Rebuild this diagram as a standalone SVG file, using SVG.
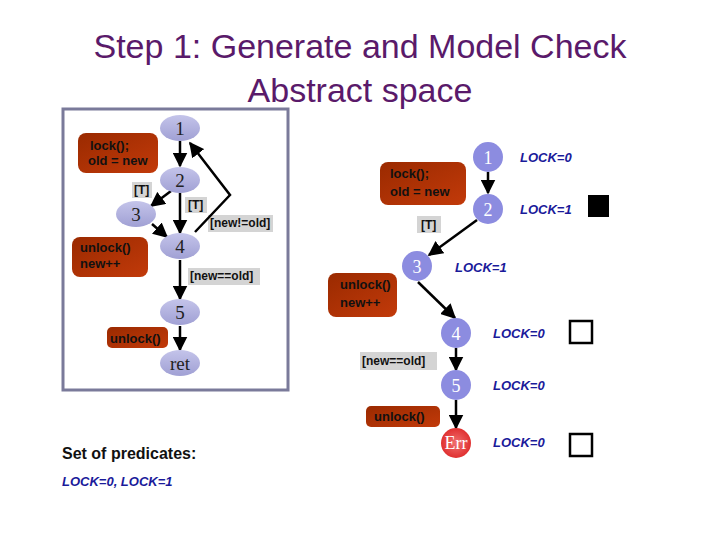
<svg xmlns="http://www.w3.org/2000/svg" width="720" height="540" viewBox="0 0 720 540">
<defs>
<linearGradient id="eg" x1="0" y1="0" x2="0" y2="1"><stop offset="0" stop-color="#c4c4ea"/><stop offset="1" stop-color="#a0a0d4"/></linearGradient>
<linearGradient id="bg" x1="0" y1="0" x2="1" y2="1"><stop offset="0" stop-color="#9a2a00"/><stop offset="1" stop-color="#c23a0a"/></linearGradient>
<radialGradient id="rg"><stop offset="0" stop-color="#f07070"/><stop offset="1" stop-color="#e03030"/></radialGradient>
<marker id="ah" viewBox="0 0 10 10" refX="9" refY="5" markerWidth="6" markerHeight="6" orient="auto"><path d="M0,0 L10,5 L0,10 z" fill="#000"/></marker>
<style>
.n{fill:url(#eg)}
.c{fill:#8c8ce0}
.nt{font-family:"Liberation Serif",serif;font-size:19px;fill:#222;text-anchor:middle}
.ct{font-family:"Liberation Serif",serif;font-size:18px;fill:#fff;text-anchor:middle}
.b{fill:url(#bg)}
.bt{font-family:"Liberation Sans",sans-serif;font-size:13px;font-weight:bold;fill:#111}
.g{fill:#d4d4d4}
.gt{font-family:"Liberation Sans",sans-serif;font-size:12px;font-weight:bold;fill:#111}
.lk{font-family:"Liberation Sans",sans-serif;font-size:13px;font-weight:bold;font-style:italic;fill:#1a1a9a}
.e{stroke:#000;stroke-width:2.5;fill:none;marker-end:url(#ah)}
</style>
</defs>
<rect width="720" height="540" fill="#fff"/>
<g id="title" font-family="Liberation Sans, sans-serif" font-size="34" fill="#5a1a6a" text-anchor="middle">
<text x="360" y="58">Step 1: Generate and Model Check</text>
<text x="360" y="102">Abstract space</text>
</g>
<rect x="63" y="109" width="225" height="281" fill="none" stroke="#7a7a9a" stroke-width="3"/>
<g id="left-annotations">
<rect class="b" x="78" y="133" width="80" height="40" rx="8"/><text class="bt" x="90" y="150">lock();</text><text class="bt" x="88" y="165" font-size="11">old = new</text>
<rect class="b" x="72" y="237" width="76" height="40" rx="8"/><text class="bt" x="80" y="252">unlock()</text><text class="bt" x="80" y="268" font-size="11">new++</text>
<rect class="b" x="107" y="327" width="61" height="21" rx="5"/><text class="bt" x="110" y="343">unlock()</text>
<rect class="g" x="132" y="182" width="20" height="16"/><text class="gt" x="134" y="194">[T]</text>
<rect class="g" x="185" y="197" width="22" height="16"/><text class="gt" x="188" y="209">[T]</text>
<rect class="g" x="208" y="215" width="65" height="17"/><text class="gt" x="210" y="227" font-size="11">[new!=old]</text>
<rect class="g" x="188" y="268" width="72" height="17"/><text class="gt" x="190" y="280" font-size="11">[new==old]</text>
</g>
<g id="connectors">
<line class="e" x1="180" y1="141" x2="180" y2="166"/>
<line class="e" x1="171" y1="191" x2="151" y2="206"/>
<line class="e" x1="180" y1="193" x2="180" y2="233"/>
<line class="e" x1="152" y1="224" x2="167" y2="237"/>
<polyline class="e" points="195,232 230,195 190,143"/>
<line class="e" x1="180" y1="260" x2="180" y2="299"/>
<line class="e" x1="180" y1="326" x2="180" y2="350"/>
<line class="e" x1="488" y1="172" x2="488" y2="193"/>
<line class="e" x1="477" y1="220" x2="429" y2="255"/>
<line class="e" x1="418" y1="282" x2="455" y2="318"/>
<line class="e" x1="456" y1="348" x2="456" y2="370"/>
<line class="e" x1="456" y1="400" x2="456" y2="428"/>
</g>
<g id="n1"><ellipse class="n" cx="180" cy="128" rx="20" ry="13"/><text class="nt" x="180" y="135">1</text></g>
<g id="n2"><ellipse class="n" cx="180" cy="180" rx="20" ry="13"/><text class="nt" x="180" y="187">2</text></g>
<g id="n3"><ellipse class="n" cx="136" cy="214" rx="20" ry="13"/><text class="nt" x="136" y="221">3</text></g>
<g id="n4"><ellipse class="n" cx="180" cy="246" rx="20" ry="13"/><text class="nt" x="180" y="253">4</text></g>
<g id="n5"><ellipse class="n" cx="180" cy="312" rx="20" ry="13"/><text class="nt" x="180" y="319">5</text></g>
<g id="nret"><ellipse class="n" cx="180" cy="363" rx="20" ry="13"/><text class="nt" x="180" y="370">ret</text></g>
<g id="right-annotations">
<rect class="b" x="380" y="162" width="86" height="43" rx="8"/><text class="bt" x="390" y="178">lock();</text><text class="bt" x="390" y="196">old = new</text>
<rect class="g" x="417" y="216" width="24" height="17"/><text class="gt" x="421" y="229">[T]</text>
<rect class="b" x="328" y="273" width="69" height="44" rx="8"/><text class="bt" x="340" y="289">unlock()</text><text class="bt" x="340" y="307">new++</text>
<rect class="g" x="360" y="352" width="77" height="18"/><text class="gt" x="362" y="365">[new==old]</text>
<rect class="b" x="366" y="406" width="74" height="21" rx="5"/><text class="bt" x="374" y="421">unlock()</text>
</g>
<g id="r1"><circle class="c" cx="488" cy="157" r="15"/><text class="ct" x="488" y="164">1</text></g>
<g id="r2"><circle class="c" cx="488" cy="209" r="15"/><text class="ct" x="488" y="216">2</text></g>
<g id="r3"><circle class="c" cx="417" cy="266" r="15"/><text class="ct" x="417" y="273">3</text></g>
<g id="r4"><circle class="c" cx="456" cy="333" r="15"/><text class="ct" x="456" y="340">4</text></g>
<g id="r5"><circle class="c" cx="456" cy="385" r="15"/><text class="ct" x="456" y="392">5</text></g>
<g id="rerr"><circle fill="url(#rg)" cx="456" cy="443" r="15"/><text class="ct" x="456" y="449" font-size="15">Err</text></g>
<g id="locks">
<text class="lk" x="520" y="162">LOCK=0</text>
<text class="lk" x="520" y="214">LOCK=1</text>
<text class="lk" x="455" y="272">LOCK=1</text>
<text class="lk" x="493" y="338">LOCK=0</text>
<text class="lk" x="493" y="390">LOCK=0</text>
<text class="lk" x="493" y="447">LOCK=0</text>
<rect x="588" y="195" width="21" height="22" fill="#000"/>
<rect x="570" y="321" width="22" height="22" fill="none" stroke="#000" stroke-width="2.5"/>
<rect x="570" y="434" width="22" height="22" fill="none" stroke="#000" stroke-width="2.5"/>
</g>
<g id="predicates" font-family="Liberation Sans, sans-serif">
<text x="62" y="459" font-size="16" font-weight="bold" fill="#111">Set of predicates:</text>
<text x="62" y="486" class="lk" font-weight="normal">LOCK=0, LOCK=1</text>
</g>
</svg>
